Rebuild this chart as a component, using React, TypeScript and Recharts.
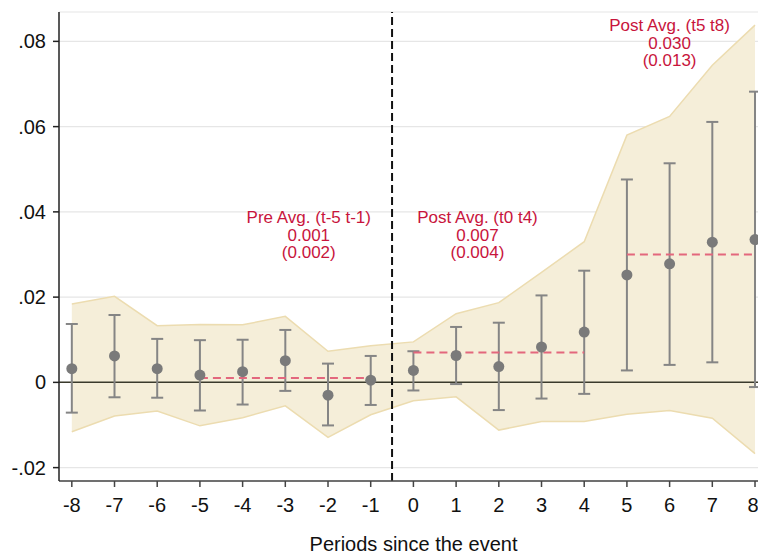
import {
  ComposedChart,
  Area,
  Scatter,
  ErrorBar,
  XAxis,
  YAxis,
  CartesianGrid,
  ReferenceLine,
  ReferenceDot,
} from "recharts";

// event-time coefficients with 95% CIs and the simultaneous band
const periods = [-8, -7, -6, -5, -4, -3, -2, -1, 0, 1, 2, 3, 4, 5, 6, 7, 8];
const estimates = [
  0.0032, 0.0062, 0.0032, 0.0017, 0.0025, 0.0051, -0.003, 0.0005, 0.0028,
  0.0063, 0.0037, 0.0083, 0.0118, 0.0252, 0.0278, 0.0329, 0.0335,
];
const ciLower = [
  -0.0071, -0.0035, -0.0036, -0.0066, -0.0052, -0.002, -0.0101, -0.0053,
  -0.0019, -0.0004, -0.0065, -0.0038, -0.0027, 0.0028, 0.0041, 0.0047, -0.0011,
];
const ciUpper = [
  0.0137, 0.0158, 0.0102, 0.0099, 0.01, 0.0123, 0.0044, 0.0062, 0.0073, 0.013,
  0.014, 0.0204, 0.0262, 0.0476, 0.0514, 0.0611, 0.0682,
];
const bandLower = [
  -0.0116, -0.0079, -0.0067, -0.0102, -0.0083, -0.0055, -0.0129, -0.0076,
  -0.0043, -0.0034, -0.0112, -0.0092, -0.0092, -0.0075, -0.0066, -0.0084,
  -0.0167,
];
const bandUpper = [
  0.0184, 0.0202, 0.0133, 0.0136, 0.0135, 0.0155, 0.0073, 0.0086, 0.0095,
  0.0161, 0.0187, 0.0258, 0.033, 0.058, 0.0624, 0.0744, 0.0838,
];

// window averages
const avgNames = ["Pre Avg. (t-5 t-1)", "Post Avg. (t0 t4)", "Post Avg. (t5 t8)"];
const avgValues = [0.001, 0.007, 0.03];
const avgSEs = [0.002, 0.004, 0.013];
const avgFrom = [-5, 0, 5];
const avgTo = [-1, 4, 8];

const yTicks = [-0.02, 0, 0.02, 0.04, 0.06, 0.08];

const rows = periods.map((t, i) => ({
  t,
  est: estimates[i],
  err: [estimates[i] - ciLower[i], ciUpper[i] - estimates[i]],
  band: [bandLower[i], bandUpper[i]],
}));

// where each average's text block sits (data units)
const notePos = [
  { x: -2.45, y: 0.0388 },
  { x: 1.5, y: 0.0388 },
  { x: 6.0, y: 0.0838 },
];

const FONT = "'Liberation Sans', Arial, sans-serif";
const RED = "#c8143c";

const fmtY = (v: number) =>
  v === 0 ? "0" : v.toFixed(2).replace(/^(-?)0\./, "$1.");

const Dot = (p: any) => (
  <circle cx={p.cx} cy={p.cy} r={5.5} fill="#7a7a7a" />
);

const noteShape = (i: number) => (p: any) => {
  const lines = [
    avgNames[i],
    avgValues[i].toFixed(3),
    `(${avgSEs[i].toFixed(3)})`,
  ];
  return (
    <text
      x={p.cx}
      y={p.cy}
      textAnchor="middle"
      fill={RED}
      fontFamily={FONT}
      fontSize={17}
    >
      {lines.map((s, k) => (
        <tspan key={k} x={p.cx} dy={k === 0 ? 6 : 17.6}>
          {s}
        </tspan>
      ))}
    </text>
  );
};

export default function App() {
  return (
    <div style={{ position: "absolute", left: 0, top: 0, background: "#fff" }}>
      <ComposedChart
        width={758}
        height={556}
        data={rows}
        margin={{ top: 12, right: 0, left: 0, bottom: 0 }}
      >
        <CartesianGrid
          vertical={false}
          stroke="#e6e6e6"
          strokeWidth={1.2}
        />
        <XAxis
          dataKey="t"
          type="number"
          domain={[-8.3, 8.07]}
          ticks={periods}
          allowDataOverflow
          height={75}
          tickSize={6}
          tickMargin={11}
          stroke="#444"
          strokeWidth={1.5}
          tick={{ fill: "#111", fontSize: 20, fontFamily: FONT }}
          label={{
            content: ({ viewBox }: any) => (
              <text
                x={viewBox.x + viewBox.width / 2 + 5}
                y={viewBox.y + viewBox.height - 5}
                textAnchor="middle"
                fill="#111"
                fontFamily={FONT}
                fontSize={20}
              >
                Periods since the event
              </text>
            ),
          }}
        />
        <YAxis
          type="number"
          domain={[-0.02314, 0.08689]}
          ticks={yTicks}
          allowDataOverflow
          width={59}
          tickSize={6}
          tickMargin={7}
          tickFormatter={fmtY}
          stroke="#222"
          strokeWidth={1.5}
          tick={{ fill: "#111", fontSize: 20, fontFamily: FONT }}
        />
        <Area
          dataKey="band"
          type="linear"
          fill="#f5eed9"
          fillOpacity={1}
          stroke="#ecdcb0"
          strokeWidth={1.5}
          isAnimationActive={false}
        />
        <ReferenceLine y={0} stroke="#3a3a2c" strokeWidth={1.5} />
        <Scatter
          dataKey="est"
          shape={Dot}
          isAnimationActive={false}
        >
          <ErrorBar
            dataKey="err"
            direction="y"
            width={6}
            stroke="#858585"
            strokeWidth={2}
            isAnimationActive={false}
          />
        </Scatter>
        {avgValues.map((v, i) => (
          <ReferenceLine
            key={`avg${i}`}
            segment={[
              { x: avgFrom[i], y: v },
              { x: avgTo[i], y: v },
            ]}
            stroke="#e3677d"
            strokeWidth={2}
            strokeDasharray="8 5"
          />
        ))}
        <ReferenceLine
          x={-0.5}
          stroke="#111"
          strokeWidth={2}
          strokeDasharray="8 4"
        />
        {notePos.map((n, i) => (
          <ReferenceDot
            key={`note${i}`}
            x={n.x}
            y={n.y}
            r={0}
            shape={noteShape(i)}
          />
        ))}
      </ComposedChart>
    </div>
  );
}
